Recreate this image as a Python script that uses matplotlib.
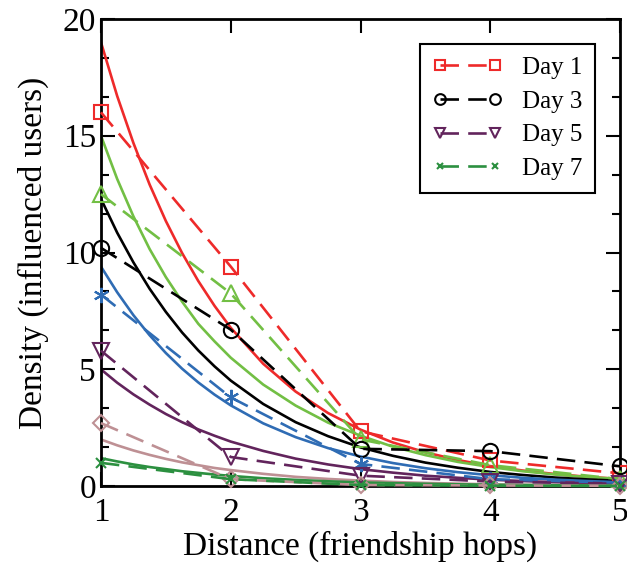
import matplotlib
matplotlib.use("Agg")
import matplotlib.pyplot as plt
from matplotlib.ticker import MultipleLocator

plt.rcParams["font.family"] = ["Liberation Serif", "DejaVu Serif"]

# hops measured
hops = [1, 2, 3, 4, 5]

day1 = [16.0, 9.4, 2.35, 1.1, 0.55]
day2 = [12.5, 8.25, 2.0, 0.9, 0.3]
day3 = [10.2, 6.7, 1.6, 1.5, 0.85]
day4 = [8.2, 3.8, 0.95, 0.3, 0.15]
day5 = [5.8, 1.25, 0.45, 0.2, 0.1]
day6 = [2.7, 0.3, 0.05, 0.03, 0.02]
day7 = [1.0, 0.3, 0.05, 0.02, 0.01]

# solid curves (fitted)
fit_x = [1, 1.125, 1.25, 1.375, 1.5, 1.625, 1.75, 1.875, 2, 2.25, 2.5,
         2.75, 3, 3.25, 3.5, 3.75, 4, 4.25, 4.5, 4.75, 5]
fit1 = [19.0, 16.70, 14.69, 12.91, 11.35, 9.98, 8.78, 7.72, 6.78, 5.24, 4.05,
        3.13, 2.42, 1.87, 1.45, 1.12, 0.86, 0.67, 0.52, 0.40, 0.31]
fit2 = [15.0, 13.15, 11.55, 10.15, 8.95, 7.9, 6.95, 6.2, 5.5, 4.35, 3.45,
        2.72, 2.16, 1.69, 1.33, 1.04, 0.82, 0.64, 0.50, 0.39, 0.31]
fit3 = [12.3, 10.85, 9.58, 8.45, 7.46, 6.58, 5.81, 5.13, 4.52, 3.52, 2.74,
        2.14, 1.66, 1.30, 1.01, 0.79, 0.61, 0.48, 0.37, 0.29, 0.23]
fit4 = [9.4, 8.30, 7.32, 6.46, 5.70, 5.03, 4.44, 3.92, 3.46, 2.69, 2.10,
        1.63, 1.27, 0.99, 0.77, 0.60, 0.47, 0.36, 0.28, 0.22, 0.17]
fit5 = [5.0, 4.43, 3.93, 3.49, 3.09, 2.74, 2.43, 2.16, 1.91, 1.51, 1.18,
        0.93, 0.73, 0.58, 0.45, 0.36, 0.28, 0.22, 0.17, 0.14, 0.11]
fit6 = [2.0, 1.75, 1.53, 1.34, 1.17, 1.02, 0.90, 0.78, 0.69, 0.53, 0.40,
        0.31, 0.24, 0.18, 0.14, 0.11, 0.08, 0.06, 0.05, 0.04, 0.03]
fit7 = [1.2, 1.06, 0.93, 0.82, 0.73, 0.64, 0.57, 0.50, 0.44, 0.34, 0.27,
        0.21, 0.16, 0.13, 0.10, 0.08, 0.06, 0.05, 0.04, 0.03, 0.02]

RED = "#EE2A2A"
GREEN = "#72BF44"
BLACK = "#000000"
BLUE = "#2F6CB4"
PURPLE = "#62245C"
PINK = "#BE9094"
DGREEN = "#2C9040"

fig = plt.figure(figsize=(6.27, 5.72), dpi=100)
ax = fig.add_axes([0.161, 0.150, 0.828, 0.817])

lw = 1.9
dash = (0, (7, 3.5))

# solid fitted curves
for ys, c in [(fit1, RED), (fit2, GREEN), (fit3, BLACK), (fit4, BLUE),
              (fit5, PURPLE), (fit6, PINK), (fit7, DGREEN)]:
    ax.plot(fit_x, ys, color=c, lw=lw, zorder=2)

# dashed measured series
series = [
    (day1, RED, "s", 10, "Day 1"),
    (day2, GREEN, "^", 11, None),
    (day3, BLACK, "o", 11, "Day 3"),
    (day4, BLUE, (6, 2, 0), 11, None),
    (day5, PURPLE, "v", 11, "Day 5"),
    (day6, PINK, "D", 8, None),
    (day7, DGREEN, "x", 7, "Day 7"),
]
handles = []
for ys, c, m, ms, lab in series:
    h, = ax.plot(hops, ys, color=c, lw=lw, linestyle=dash, marker=m,
                 markersize=ms, markerfacecolor="none", markeredgecolor=c,
                 markeredgewidth=1.5, clip_on=False, zorder=3,
                 label=lab if lab else "_nolegend_")
    if lab:
        handles.append(h)

ax.set_xlim(1, 5)
ax.set_ylim(0, 20)
ax.xaxis.set_major_locator(MultipleLocator(1))
ax.yaxis.set_major_locator(MultipleLocator(5))
ax.yaxis.set_minor_locator(MultipleLocator(5 / 3))
ax.tick_params(which="both", direction="in", top=True, right=True,
               labelsize=24, width=1.5)
ax.tick_params(which="major", length=10)
ax.tick_params(which="minor", length=6)
ax.tick_params(axis="x", pad=8)
for s in ax.spines.values():
    s.set_linewidth(2)

ax.set_xlabel("Distance (friendship hops)", fontsize=24, labelpad=2)
ax.set_ylabel("Density (influenced users)", fontsize=24, labelpad=10)

leg = ax.legend(handles=handles, loc="upper right", fontsize=18,
                numpoints=2, handlelength=2.8, markerscale=0.7,
                fancybox=False, edgecolor="black", framealpha=1,
                borderaxespad=1.0, labelspacing=0.45, borderpad=0.5,
                handletextpad=0.8)
leg.get_frame().set_linewidth(1.5)

fig.savefig("out.png", dpi=100)
